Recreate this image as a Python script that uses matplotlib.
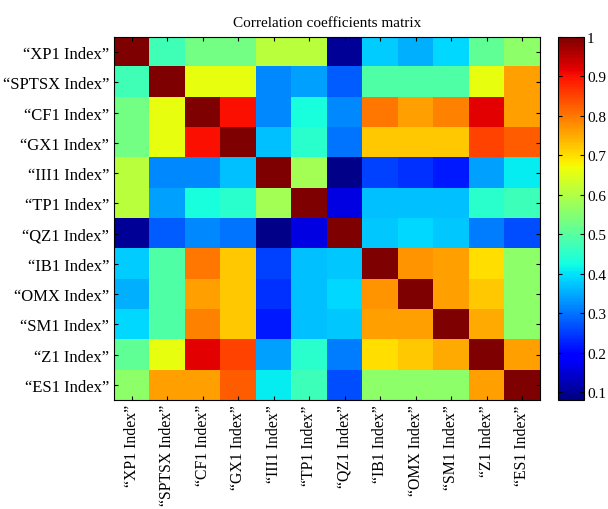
import numpy as np
import matplotlib
matplotlib.use('Agg')
import matplotlib.pyplot as plt

plt.rcParams['font.family'] = ['Liberation Serif', 'DejaVu Serif']

names = ['XP1', 'SPTSX', 'CF1', 'GX1', 'III1', 'TP1',
         'QZ1', 'IB1', 'OMX', 'SM1', 'Z1', 'ES1']
labels = ['\u201c%s Index\u201d' % n for n in names]

# correlation coefficients, one row per index
corr = [
    [1.00, .475, .53, .53, .61, .61, .10, .38, .355, .39, .51, .56],
    [.475, 1.00, .66, .66, .32, .34, .28, .49, .49, .49, .66, .76],
    [.53, .66, 1.00, .90, .32, .43, .32, .80, .76, .79, .92, .76],
    [.53, .66, .90, 1.00, .37, .45, .30, .72, .72, .72, .85, .825],
    [.61, .32, .32, .37, 1.00, .585, .09, .255, .24, .22, .34, .41],
    [.61, .34, .43, .45, .585, 1.00, .16, .37, .37, .37, .45, .47],
    [.10, .28, .32, .30, .09, .16, 1.00, .375, .39, .375, .31, .265],
    [.38, .49, .80, .72, .255, .37, .375, 1.00, .77, .76, .70, .56],
    [.355, .49, .76, .72, .24, .37, .39, .77, 1.00, .76, .72, .56],
    [.39, .49, .79, .72, .22, .37, .375, .76, .76, 1.00, .75, .56],
    [.51, .66, .92, .85, .34, .45, .31, .70, .72, .75, 1.00, .76],
    [.56, .76, .76, .825, .41, .47, .265, .56, .56, .56, .76, 1.00],
]
corr = np.array(corr)

fig = plt.figure(figsize=(6.08, 5.10), dpi=100)
ax = fig.add_axes([0.1875, 0.2137, 0.7005, 0.7118])
cax = fig.add_axes([0.918, 0.2137, 0.043, 0.7118])

im = ax.imshow(corr, cmap='jet', vmin=0.08, vmax=1.0,
               aspect='auto', interpolation='nearest')

ax.set_xticks(range(len(labels)))
ax.set_yticks(range(len(labels)))
ax.set_xticklabels(labels, rotation=90, fontsize=11.3)
ax.set_yticklabels(labels, fontsize=12)
ax.tick_params(direction='in', top=True, right=True, length=3, width=0.8)
ax.tick_params(axis='x', pad=3)
ax.set_title('Correlation coefficients matrix', fontsize=11, pad=8)

cb = fig.colorbar(im, cax=cax, ticks=np.arange(0.1, 1.01, 0.1))
cb.ax.set_yticklabels(['0.1', '0.2', '0.3', '0.4', '0.5',
                       '0.6', '0.7', '0.8', '0.9', '1'])
cb.ax.tick_params(direction='in', left=True, right=True, length=3,
                  labelsize=11, pad=2)
cb.outline.set_linewidth(0.8)

fig.savefig('out.png', dpi=100)
